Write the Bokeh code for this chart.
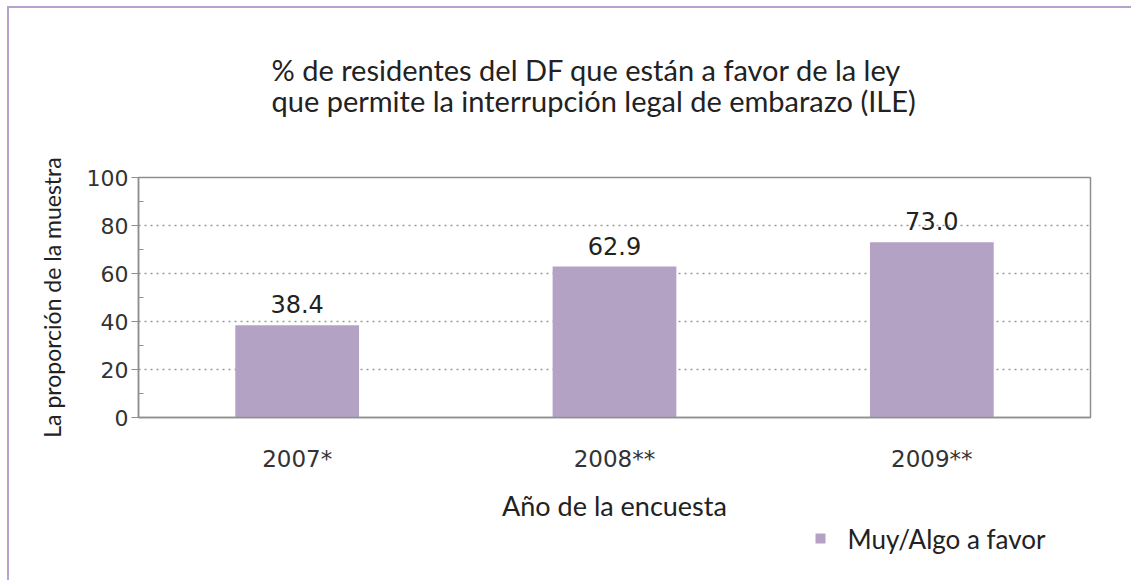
from bokeh.plotting import figure
from bokeh.models import (ColumnDataSource, FixedTicker, LinearAxis, Range1d)
from bokeh.core.properties import value
from bokeh.embed import file_html
from bokeh.resources import INLINE

years = ["2007*", "2008**", "2009**"]
favor = [38.4, 62.9, 73.0]
series_name = "Muy/Algo a favor"
title_lines = ["% de residentes del DF que están a favor de la ley",
               "que permite la interrupción legal de embarazo (ILE)"]
y_ticks = [0, 20, 40, 60, 80, 100]
y_minor = [10, 30, 50, 70, 90]

xpos = list(range(len(years)))
src = ColumnDataSource(dict(x=xpos, y=favor, lab=[f"{v:.1f}" for v in favor]))

TITLE_FONT = "Lato"
NUM_FONT = "DejaVu Sans"
BORDER = "#b5a3cf"
BAR = "#b3a2c4"
FRAME_W, FRAME_H = 952, 240

p = figure(x_range=Range1d(-0.5, len(years) - 0.5), y_range=Range1d(0, 100),
           frame_width=FRAME_W, frame_height=FRAME_H,
           output_backend="svg", toolbar_location=None,
           min_border_left=129, min_border_right=41, min_border_top=169,
           min_border_bottom=163)
p.margin = (6, 0, 0, 7)
p.styles = {"border-top": f"2px solid {BORDER}", "border-left": f"2px solid {BORDER}"}
p.background_fill_color = "white"
p.border_fill_color = "white"
p.outline_line_color = "#8f8f8f"
p.outline_line_width = 1.5

bars = p.vbar(x="x", top="y", width=0.39, source=src, fill_color=BAR,
              line_color=None)
p.text(x="x", y="y", text="lab", source=src, text_align="center",
       text_baseline="bottom", y_offset=-12, text_font=value(NUM_FONT),
       text_font_size="24px", text_color="#222222")

# y axis
p.yaxis.ticker = FixedTicker(ticks=y_ticks, minor_ticks=y_minor)
p.yaxis.axis_line_color = "#8f8f8f"
p.yaxis.axis_line_width = 1.5
p.yaxis.major_tick_line_color = "#8f8f8f"
p.yaxis.major_tick_out = 7
p.yaxis.major_tick_in = 0
p.yaxis.minor_tick_line_color = "#8f8f8f"
p.yaxis.minor_tick_in = 5
p.yaxis.minor_tick_out = 0
p.yaxis.major_label_text_font = NUM_FONT
p.yaxis.major_label_text_font_size = "22px"
p.yaxis.major_label_text_color = "#333333"
p.yaxis.major_label_standoff = 3
p.yaxis.axis_label = "La proporción de la muestra"
p.yaxis.axis_label_text_font = TITLE_FONT
p.yaxis.axis_label_text_font_size = "23px"
p.yaxis.axis_label_text_font_style = "normal"
p.yaxis.axis_label_text_color = "#222222"
p.yaxis.axis_label_standoff = 18

# x axis (category positions labelled with the survey years)
p.xaxis.ticker = FixedTicker(ticks=xpos, minor_ticks=[])
p.xaxis.major_label_overrides = {i: y for i, y in zip(xpos, years)}
p.xaxis.axis_line_color = "#8f8f8f"
p.xaxis.axis_line_width = 1.5
p.xaxis.major_tick_line_color = None
p.xaxis.minor_tick_line_color = None
p.xaxis.major_label_text_font = NUM_FONT
p.xaxis.major_label_text_font_size = "23px"
p.xaxis.major_label_text_color = "#333333"
p.xaxis.major_label_standoff = 22
p.xaxis.axis_label = "Año de la encuesta"
p.xaxis.axis_label_text_font = TITLE_FONT
p.xaxis.axis_label_text_font_size = "27px"
p.xaxis.axis_label_text_font_style = "normal"
p.xaxis.axis_label_text_color = "#222222"
p.xaxis.axis_label_standoff = 14

p.xgrid.grid_line_color = None
p.ygrid.ticker = FixedTicker(ticks=[20, 40, 60, 80])
p.ygrid.grid_line_color = "#9a9a9a"
p.ygrid.grid_line_dash = "2 4"
p.ygrid.grid_line_width = 1.5

# title: two lines, with an empty third line acting as a spacer above the frame
p.title.text = "\n".join(title_lines) + "\n "
p.title.align = "left"
p.title.offset = 133
p.title.standoff = 56
p.title.text_font = TITLE_FONT
p.title.text_font_size = "29px"
p.title.text_font_style = "normal"
p.title.text_color = "#222222"
p.title.text_line_height = 0.9

# legend row below the axis title: a swatch (minor tick) beside its label
LEG_SWATCH, LEG_TEXT = 682, 808   # positions in frame pixels
p.extra_x_ranges = {"legend": Range1d(0, FRAME_W)}
leg_axis = LinearAxis(x_range_name="legend",
                      ticker=FixedTicker(ticks=[LEG_TEXT], minor_ticks=[LEG_SWATCH]),
                      major_label_overrides={LEG_TEXT: series_name},
                      axis_line_color=None, major_tick_line_color=None,
                      major_tick_in=0, major_tick_out=0,
                      minor_tick_line_color=BAR, minor_tick_line_width=10,
                      minor_tick_in=-9, minor_tick_out=19,
                      major_label_standoff=-21,
                      major_label_text_font=TITLE_FONT,
                      major_label_text_font_size="26px",
                      major_label_text_color="#222222")
p.add_layout(leg_axis, "below")

open("out.html", "w").write(file_html(p, INLINE))
